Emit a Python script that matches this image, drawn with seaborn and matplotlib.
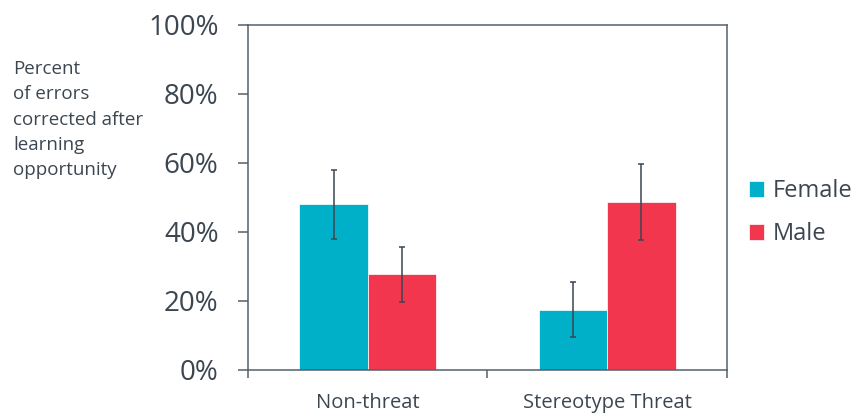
import matplotlib
matplotlib.use("Agg")
import matplotlib.pyplot as plt
import seaborn as sns
import pandas as pd
from matplotlib.ticker import PercentFormatter, FixedLocator

# ---- data ----
conditions = ["Non-threat", "Stereotype Threat"]
genders = ["Female", "Male"]
female_vals = [0.48, 0.175]
male_vals = [0.277, 0.485]
female_err = [0.10, 0.08]
male_err = [0.08, 0.11]
y_ticks = [0.0, 0.2, 0.4, 0.6, 0.8, 1.0]
y_label = "Percent\nof errors\ncorrected after\nlearning\nopportunity"

colors = ["#00AFC8", "#F2364E"]
text_col = "#3C4651"
axis_col = "#55606A"

sns.set_theme(style="white")
plt.rcParams["font.family"] = ["Open Sans", "DejaVu Sans"]

df = pd.DataFrame({
    "condition": conditions * 2,
    "gender": [genders[0]] * 2 + [genders[1]] * 2,
    "value": female_vals + male_vals,
})
errs = {genders[0]: female_err, genders[1]: male_err}

fig = plt.figure(figsize=(8.57, 4.16), dpi=100)
ax = fig.add_axes([248 / 857, 1 - 370 / 416, (727 - 248) / 857, (370 - 24.5) / 416])

sns.barplot(data=df, x="condition", y="value", hue="gender", hue_order=genders,
            order=conditions, palette=colors, width=0.57, errorbar=None,
            edgecolor="white", linewidth=0.5, saturation=1, ax=ax)

for cont, g in zip(ax.containers, genders):
    xs = [p.get_x() + p.get_width() / 2 for p in cont.patches]
    ys = [p.get_height() for p in cont.patches]
    ax.errorbar(xs, ys, yerr=errs[g], fmt="none", ecolor="#3A4652",
                elinewidth=1.1, capsize=2.3, capthick=1.1, zorder=5)

ax.set_ylim(0, 1)
ax.set_xlim(-0.5, 1.5)
ax.set_yticks(y_ticks)
ax.yaxis.set_major_formatter(PercentFormatter(1.0, decimals=0))
ax.tick_params(axis="y", left=True, direction="out", length=7.2, width=1.1,
               color=axis_col, labelsize=20, labelcolor=text_col, pad=14)

ax.set_xticks([0, 1])
ax.set_xticklabels(conditions)
ax.xaxis.set_minor_locator(FixedLocator([-0.5, 0.5, 1.5]))
ax.tick_params(axis="x", which="major", bottom=False, length=0, labelsize=14.5,
               labelcolor=text_col, pad=16.5)
ax.tick_params(axis="x", which="minor", bottom=True, direction="out",
               length=5.8, width=1.1, color=axis_col)

for s in ax.spines.values():
    s.set_visible(True)
    s.set_color(axis_col)
    s.set_linewidth(1.1)

ax.set_xlabel("")
ax.set_ylabel("")
fig.text(13 / 857, 1 - 60 / 416, y_label, ha="left", va="top", fontsize=13.5,
         color=text_col, linespacing=1.52)

handles, labels = ax.get_legend_handles_labels()
if ax.legend_:
    ax.legend_.remove()
leg = fig.legend(handles, labels, loc="upper left",
                 bbox_to_anchor=(749 / 857, 1 - 179 / 416), frameon=False,
                 fontsize=17, handlelength=0.65, handleheight=0.65,
                 handletextpad=0.35, labelspacing=0.82, borderpad=0,
                 borderaxespad=0)
for t in leg.get_texts():
    t.set_color(text_col)

fig.savefig("out.png", dpi=100)
